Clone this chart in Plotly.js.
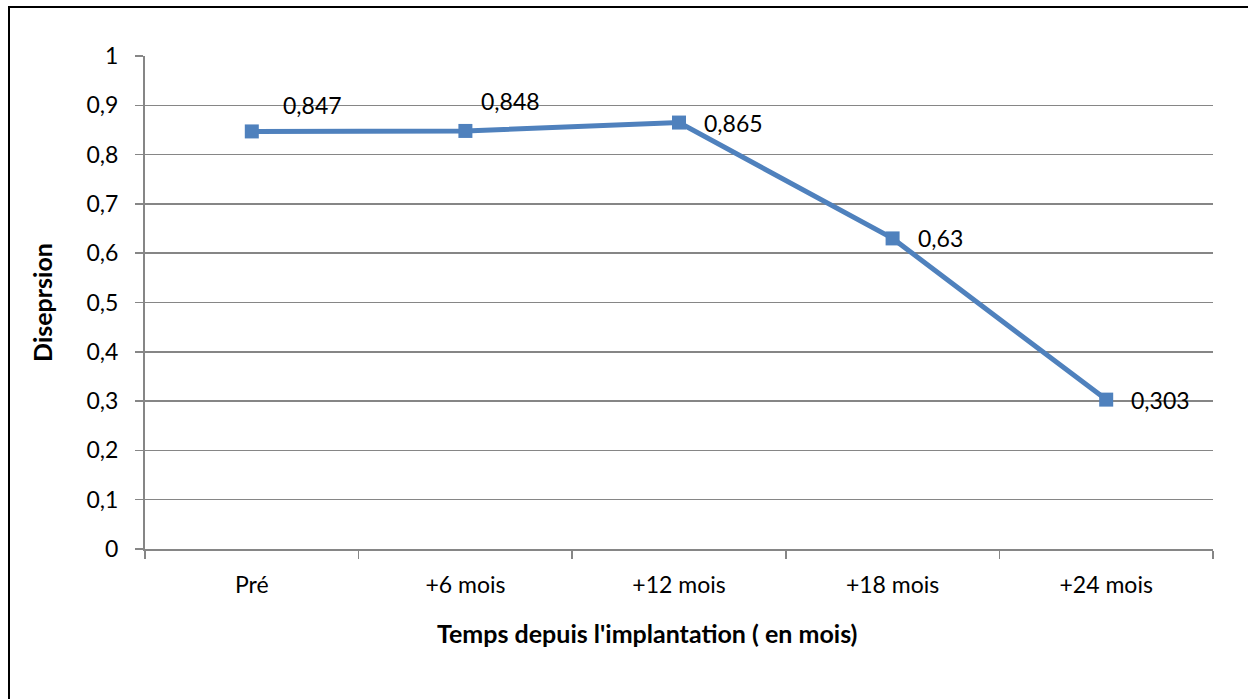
<!DOCTYPE html>
<html><head><meta charset="utf-8">
<script src="https://cdn.plot.ly/plotly-3.0.1.min.js"></script>
<style>
body{margin:0;padding:0;background:#fff;}
#frame{position:absolute;left:8px;top:6px;width:1300px;height:800px;border-left:2.5px solid #000;border-top:2.5px solid #000;}
#chart{position:absolute;left:0;top:0;width:1248px;height:699px;}
</style></head>
<body>
<div id="frame"></div>
<div id="chart"></div>
<script>
const categories = ["Pré", "+6 mois", "+12 mois", "+18 mois", "+24 mois"];
const dispersion = [0.847, 0.848, 0.865, 0.63, 0.303];
const labels = ["0,847", "0,848", "0,865", "0,63", "0,303"];
const yTitle = "Diseprsion";
const xTitle = "Temps depuis l'implantation ( en mois)";

const font = "Lato, 'Open Sans', sans-serif";
const labelOffsets = [[29, 26], [14, 30], [23, 0], [23, 0], [23, 0]];

const trace = {
  x: categories, y: dispersion, type: "scatter", mode: "lines+markers",
  line: {color: "#4F81BD", width: 5},
  marker: {symbol: "square", size: 14, color: "#4F81BD"},
  hoverinfo: "skip"
};

const annotations = categories.map((c, i) => ({
  x: c, y: dispersion[i], xref: "x", yref: "y", text: labels[i],
  showarrow: false, xanchor: "left", yanchor: "middle",
  xshift: labelOffsets[i][0], yshift: labelOffsets[i][1],
  font: {family: font, size: 23, color: "#000"}
}));
annotations.push({
  xref: "paper", yref: "paper", x: (647 - 145) / 1068, y: -0.17,
  text: "<b>" + xTitle + "</b>", showarrow: false, xanchor: "center", yanchor: "middle",
  font: {family: font, size: 25, color: "#000"}
});

const layout = {
  width: 1248, height: 699,
  margin: {l: 145, r: 35, t: 56, b: 150},
  paper_bgcolor: "rgba(0,0,0,0)", plot_bgcolor: "rgba(0,0,0,0)",
  separators: ", ",
  showlegend: false,
  xaxis: {
    type: "category", range: [-0.5, 4.5], autorange: false,
    showgrid: false, zeroline: false,
    showline: true, linecolor: "#868686", linewidth: 2,
    ticks: "outside", tickson: "boundaries", ticklen: 8, tickcolor: "#868686", tickwidth: 1.5,
    tickfont: {family: font, size: 23, color: "#000"}, ticklabelstandoff: 14
  },
  yaxis: {
    range: [0, 1], autorange: false, dtick: 0.1, tick0: 0,
    showgrid: true, gridcolor: "#868686", gridwidth: 1.5, zeroline: false,
    showline: true, linecolor: "#868686", linewidth: 2,
    ticks: "outside", ticklen: 8, tickcolor: "#868686", tickwidth: 1.5,
    tickfont: {family: font, size: 23, color: "#000"}, ticklabelstandoff: 12,
    title: {text: "<b>" + yTitle + "</b>", font: {family: font, size: 25, color: "#000"}, standoff: 27}
  },
  annotations: annotations
};

Plotly.newPlot("chart", [trace], layout, {displayModeBar: false, staticPlot: true});
</script>
</body></html>
